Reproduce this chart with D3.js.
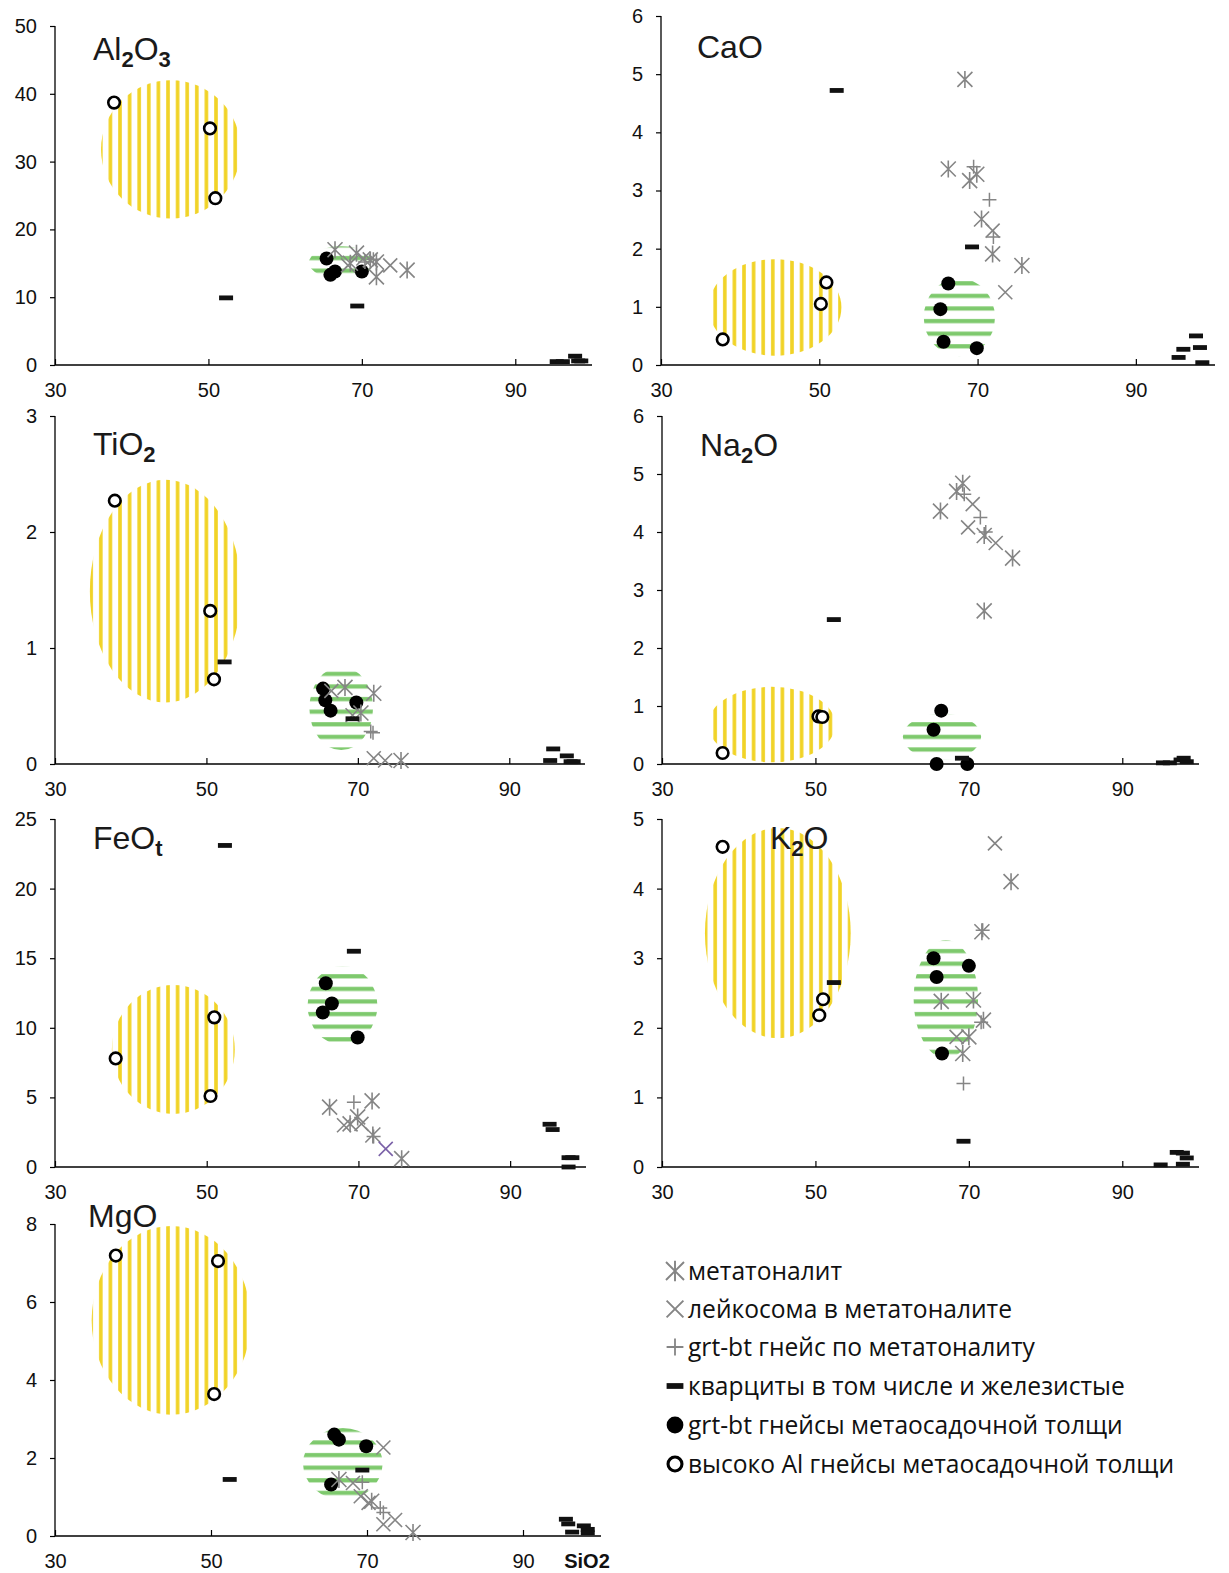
<!DOCTYPE html>
<html><head><meta charset="utf-8">
<script src="https://cdn.jsdelivr.net/npm/d3@7"></script>
<style>body{margin:0;background:#fff} svg{display:block}</style>
</head><body>
<script>
// Harker-type variation diagrams: oxide (wt%) against SiO2 (wt%)
const oxides = ["Al2O3", "CaO", "TiO2", "Na2O", "FeOt", "K2O", "MgO"];
const yMaxima = [50, 6, 3, 6, 25, 5, 8];
const yTickSteps = [10, 1, 1, 1, 5, 1, 2];
const sio2Ticks = [30, 50, 70, 90];
const sio2Domain = [30, 100];

const groupKeys = ["mt", "lc", "gn", "qz", "gb", "al"];
const groupLabels = [
  "метатоналит",
  "лейкосома в метатоналите",
  "grt-bt гнейс по метатоналиту",
  "кварциты в том числе и железистые",
  "grt-bt гнейсы метаосадочной толщи",
  "высоко Al гнейсы метаосадочной толщи"
];

// Analyses for each panel: [group, SiO2, oxide]
const al2o3Points = [
  ["al",37.7,38.7],["al",50.2,34.9],["al",50.9,24.6],
  ["gb",65.4,15.7],["gb",65.9,13.3],["gb",66.5,13.8],["gb",70.0,13.8],
  ["qz",52.3,9.9],["qz",69.4,8.7],["qz",95.4,0.5],["qz",96.2,0.5],["qz",97.8,1.3],["qz",98.2,0.6],["qz",98.6,0.6],
  ["mt",66.5,17.0],["mt",69.3,16.5],["mt",68.5,15.0],["mt",71.1,15.5],["mt",71.9,15.2],["mt",71.9,13.0],["mt",75.9,14.0],
  ["lc",70.2,15.7],["lc",73.7,14.7],["lc",68.2,14.7],
  ["gn",70.4,15.2],["gn",71.5,15.6]
];
const caoPoints = [
  ["al",37.8,0.44],["al",50.2,1.05],["al",50.9,1.42],
  ["gb",66.3,1.40],["gb",65.3,0.96],["gb",65.7,0.40],["gb",69.9,0.29],
  ["qz",52.2,4.72],["qz",69.3,2.03],["qz",95.4,0.13],["qz",96.0,0.27],["qz",97.6,0.50],["qz",98.1,0.30],["qz",98.4,0.04],
  ["mt",68.4,4.91],["mt",66.3,3.37],["mt",69.0,3.17],["mt",69.9,3.28],["mt",70.5,2.51],["mt",71.9,1.91],["mt",75.6,1.71],
  ["lc",71.9,2.31],["lc",73.5,1.25],
  ["gn",69.5,3.41],["gn",71.5,2.84],["gn",72.0,2.2]
];
const tio2Points = [
  ["al",37.9,2.27],["al",50.5,1.32],["al",51.0,0.73],
  ["gb",65.4,0.65],["gb",65.7,0.55],["gb",66.4,0.46],["gb",69.8,0.53],
  ["qz",52.4,0.88],["qz",69.3,0.39],["qz",95.4,0.03],["qz",95.8,0.13],["qz",97.6,0.07],["qz",98.1,0.02],["qz",98.5,0.02],
  ["mt",68.3,0.66],["mt",72.1,0.61],["mt",70.4,0.44],["mt",75.7,0.03],
  ["lc",66.5,0.63],["lc",69.3,0.42],["lc",72.1,0.05],["lc",73.6,0.03],
  ["gn",71.7,0.28],["gn",72.0,0.27]
];
const na2oPoints = [
  ["al",37.9,0.19],["al",50.4,0.82],["al",50.9,0.81],
  ["gb",66.4,0.92],["gb",65.4,0.59],["gb",65.8,0.0],["gb",69.8,0.0],
  ["qz",52.4,2.49],["qz",69.1,0.1],["qz",95.3,0.02],["qz",96.2,0.02],["qz",97.6,0.07],["qz",98.0,0.1],["qz",98.4,0.04],
  ["mt",66.3,4.36],["mt",68.4,4.70],["mt",69.2,4.84],["mt",72.0,3.94],["mt",75.7,3.55],["mt",72.0,2.64],
  ["lc",70.5,4.48],["lc",69.9,4.08],["lc",73.5,3.81],
  ["gn",69.4,4.65],["gn",71.5,4.25],["gn",72.2,4.0]
];
const feotPoints = [
  ["al",38.0,7.8],["al",51.0,10.75],["al",50.5,5.1],
  ["gb",65.7,13.2],["gb",66.5,11.75],["gb",65.3,11.1],["gb",69.9,9.3],
  ["qz",52.4,23.1],["qz",69.4,15.5],["qz",95.2,3.07],["qz",95.6,2.69],["qz",97.7,0.67],["qz",98.2,0.67],["qz",97.7,0.0],
  ["mt",66.2,4.3],["mt",71.8,4.75],["mt",68.9,3.1],["mt",69.9,3.6],["mt",71.9,2.3],["mt",75.7,0.6],
  ["lc",68.1,3.0],["lc",70.4,3.1],["lcv",73.6,1.3],
  ["gn",69.4,4.65],["gn",72.0,2.2]
];
const k2oPoints = [
  ["al",37.9,4.60],["al",51.0,2.41],["al",50.5,2.18],
  ["gb",65.4,3.0],["gb",65.8,2.73],["gb",70.0,2.89],["gb",66.5,1.63],
  ["qz",52.4,2.65],["qz",69.3,0.37],["qz",95.0,0.03],["qz",97.1,0.21],["qz",97.9,0.2],["qz",98.4,0.13],["qz",97.9,0.04],
  ["mt",75.5,4.1],["mt",71.7,3.38],["mt",66.4,2.38],["mt",70.6,2.40],["mt",71.9,2.11],["mt",70.0,1.87],["mt",69.2,1.63],
  ["lc",73.4,4.65],["lc",68.4,1.87],
  ["gn",71.8,3.4],["gn",71.6,2.08],["gn",69.3,1.2]
];
const mgoPoints = [
  ["al",37.8,7.19],["al",50.9,7.05],["al",50.4,3.64],
  ["gb",65.8,2.6],["gb",66.4,2.47],["gb",69.9,2.3],["gb",65.4,1.32],
  ["qz",52.4,1.45],["qz",69.4,1.69],["qz",95.5,0.43],["qz",95.8,0.31],["qz",96.3,0.1],["qz",97.8,0.26],["qz",98.3,0.17],["qz",98.3,0.08],
  ["mt",66.4,1.45],["mt",70.6,0.89],["mt",75.9,0.09],
  ["lc",72.1,2.27],["lc",68.2,1.36],["lc",69.2,1.02],["lc",70.2,0.85],["lc",72.1,0.3],["lc",73.6,0.41],
  ["gn",69.4,1.38],["gn",71.7,0.72],["gn",72.1,0.6]
];
const panelPoints = [al2o3Points, caoPoints, tio2Points, na2oPoints, feotPoints, k2oPoints, mgoPoints];

// Composition fields: [SiO2 centre, oxide centre, SiO2 half-width, oxide half-height]
const yellowFields = [
  [45.1, 31.8, 9.1, 10.2],
  [44.4, 0.99, 8.4, 0.83],
  [44.6, 1.49, 10.0, 0.96],
  [44.3, 0.68, 8.3, 0.65],
  [45.6, 8.44, 8.1, 4.63],
  [45.1, 3.36, 9.5, 1.51],
  [44.9, 5.53, 10.2, 2.42]
];
const greenFields = [
  [67.3, 15.1, 4.2, 2.4],
  [67.7, 0.82, 4.5, 0.67],
  [67.8, 0.48, 4.2, 0.36],
  [66.5, 0.47, 5.1, 0.40],
  [67.9, 11.6, 4.6, 2.84],
  [67.0, 2.41, 4.2, 0.85],
  [66.9, 1.85, 5.1, 0.92]
];

// ---- layout ----
const W = 1229, H = 1573;
const frames = [
  {x0: 55,  x1: 592,  y0: 365,  y1: 26},
  {x0: 661, x1: 1215, y0: 365,  y1: 16},
  {x0: 55,  x1: 585,  y0: 764,  y1: 416},
  {x0: 662, x1: 1199, y0: 764,  y1: 416},
  {x0: 55,  x1: 586,  y0: 1167, y1: 819},
  {x0: 662, x1: 1199, y0: 1167, y1: 819},
  {x0: 55,  x1: 601,  y0: 1536, y1: 1224}
];
const titleParts = [
  [["Al",0],["2",1],["O",0],["3",1]],
  [["CaO",0]],
  [["TiO",0],["2",1]],
  [["Na",0],["2",1],["O",0]],
  [["FeO",0],["t",1]],
  [["K",0],["2",1],["O",0]],
  [["MgO",0]]
];
const titlePos = [[93,60],[697,58],[93,455],[700,456],[93,849],[770,849],[88,1227]];

const FONT = "'Liberation Sans', Arial, sans-serif";
const GRAY = "#858585";

const svg = d3.select("body").append("svg")
  .attr("width", W).attr("height", H)
  .style("font-family", FONT);

const defs = svg.append("defs");
const pY = defs.append("pattern").attr("id", "vstripe")
  .attr("patternUnits", "userSpaceOnUse").attr("width", 9.6).attr("height", 10);
pY.append("rect").attr("x", 3).attr("y", 0).attr("width", 3.6).attr("height", 10).attr("fill", "#f1d326");
const pG = defs.append("pattern").attr("id", "hstripe")
  .attr("patternUnits", "userSpaceOnUse").attr("width", 10).attr("height", 12.6);
pG.append("rect").attr("x", 0).attr("y", 4).attr("width", 10).attr("height", 4.2).attr("fill", "#7ec96d");
defs.append("filter").attr("id", "soft")
  .append("feGaussianBlur").attr("stdDeviation", 0.5);

// marker drawing; s scales the glyph (legend glyphs are a little larger)
function drawMarker(g, key, cx, cy, s = 1) {
  const m = g.append("g").attr("transform", `translate(${cx},${cy}) scale(${s})`);
  if (key === "mt") {
    const a = 7.5, b = 8.5;
    m.append("path").attr("d", `M${-a},${-a}L${a},${a}M${-a},${a}L${a},${-a}M0,${-b}L0,${b}`)
      .attr("stroke", GRAY).attr("stroke-width", 1.6).attr("fill", "none");
  } else if (key === "lc" || key === "lcv") {
    const a = 7;
    m.append("path").attr("d", `M${-a},${-a}L${a},${a}M${-a},${a}L${a},${-a}`)
      .attr("stroke", key === "lcv" ? "#7b62a8" : GRAY).attr("stroke-width", 1.6).attr("fill", "none");
  } else if (key === "gn") {
    const a = 7;
    m.append("path").attr("d", `M${-a},0L${a},0M0,${-a}L0,${a}`)
      .attr("stroke", GRAY).attr("stroke-width", 1.5).attr("fill", "none");
  } else if (key === "qz") {
    m.append("rect").attr("x", -7).attr("y", -2.4).attr("width", 14).attr("height", 4.8).attr("fill", "#111");
  } else if (key === "gb") {
    m.append("circle").attr("r", 7).attr("fill", "#000");
  } else if (key === "al") {
    m.append("circle").attr("r", 5.8).attr("fill", "#fff").attr("stroke", "#000").attr("stroke-width", 2.6);
  }
}

const drawOrder = ["al", "gb", "mt", "lc", "lcv", "gn", "qz"];

oxides.forEach((ox, i) => {
  const f = frames[i];
  const x = d3.scaleLinear().domain(sio2Domain).range([f.x0, f.x1]);
  const y = d3.scaleLinear().domain([0, yMaxima[i]]).range([f.y0, f.y1]);
  const g = svg.append("g").attr("class", "panel-" + ox);

  // fields
  const yf = yellowFields[i], gf = greenFields[i];
  g.append("ellipse")
    .attr("cx", x(yf[0])).attr("cy", y(yf[1]))
    .attr("rx", x(yf[0] + yf[2]) - x(yf[0])).attr("ry", y(yf[1]) - y(yf[1] + yf[3]))
    .attr("fill", "url(#vstripe)").attr("filter", "url(#soft)");
  g.append("ellipse")
    .attr("cx", x(gf[0])).attr("cy", y(gf[1]))
    .attr("rx", x(gf[0] + gf[2]) - x(gf[0])).attr("ry", y(gf[1]) - y(gf[1] + gf[3]))
    .attr("fill", "url(#hstripe)").attr("filter", "url(#soft)");

  // axes
  const yTicks = d3.range(0, yMaxima[i] + 1e-9, yTickSteps[i]);
  const yAxis = d3.axisLeft(y).tickValues(yTicks).tickSize(5).tickPadding(13).tickFormat(d3.format("d"));
  const ya = g.append("g").attr("transform", `translate(${f.x0},0)`).call(yAxis);
  ya.select(".domain").attr("d", `M0,${f.y0}V${f.y1}`).attr("stroke", "#000").attr("stroke-width", 1.3);
  ya.selectAll(".tick line").attr("stroke", "#000").attr("stroke-width", 1.2);
  ya.selectAll(".tick text").attr("font-size", 20).attr("font-family", FONT).attr("fill", "#111");

  const xAxis = d3.axisBottom(x).tickValues(sio2Ticks).tickSize(-6).tickPadding(18).tickFormat(d3.format("d"));
  const xa = g.append("g").attr("transform", `translate(0,${f.y0})`).call(xAxis);
  xa.select(".domain").attr("d", `M${f.x0},0H${f.x1}`).attr("stroke", "#000").attr("stroke-width", 1.3);
  xa.selectAll(".tick line").attr("stroke", "#000").attr("stroke-width", 1.2);
  xa.selectAll(".tick text").attr("font-size", 20).attr("font-family", FONT).attr("fill", "#111");

  // points
  const pts = panelPoints[i];
  drawOrder.forEach(key => {
    pts.filter(p => p[0] === key).forEach(p => drawMarker(g, key, x(p[1]), y(p[2])));
  });

  // title
  const t = g.append("text").attr("x", titlePos[i][0]).attr("y", titlePos[i][1])
    .attr("font-size", 32).attr("fill", "#1a1a1a");
  let prevSub = false;
  titleParts[i].forEach(([s, sub]) => {
    const ts = t.append("tspan").text(s);
    if (sub) {
      ts.attr("font-size", 22).attr("font-weight", "bold").attr("dy", prevSub ? 0 : 7);
    } else if (prevSub) {
      ts.attr("dy", -7);
    }
    prevSub = !!sub;
  });
});

// SiO2 axis name under the last panel
svg.append("text").attr("x", 587).attr("y", 1568)
  .attr("text-anchor", "middle").attr("font-size", 20).attr("font-weight", "bold")
  .attr("fill", "#111").text("SiO2");

// legend
const legendY = [1271, 1309, 1347, 1386, 1425, 1464];
const lg = svg.append("g").attr("class", "legend");
groupKeys.forEach((k, j) => {
  drawMarker(lg, k, 675, legendY[j], 1.2);
  lg.append("text").attr("x", 688).attr("y", legendY[j]).attr("dy", "0.36em")
    .attr("font-family", "'Open Sans', 'Noto Sans', sans-serif").attr("font-size", 24.6)
    .attr("fill", "#111").text(groupLabels[j]);
});
</script>
</body></html>
